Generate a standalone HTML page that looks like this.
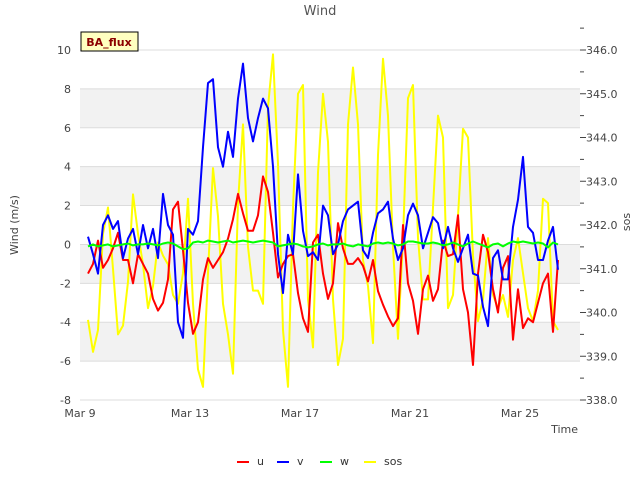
<!DOCTYPE html>
<html><head><meta charset="utf-8"><style>
body{margin:0;background:#fff;font-family:"Liberation Sans","DejaVu Sans",sans-serif}
svg text{font-family:"DejaVu Sans","Liberation Sans",sans-serif}
</style></head><body>
<svg id="chart" width="640" height="480" xmlns="http://www.w3.org/2000/svg">
<g id="bands"></g><g id="grid"></g><g id="axes"></g><g id="series"></g><g id="legend"></g>
<text x="320" y="15" text-anchor="middle" font-size="13" fill="#555">Wind</text>
<text transform="translate(18,225) rotate(-90)" text-anchor="middle" font-size="11" fill="#444">Wind (m/s)</text>
<text transform="translate(630,222) rotate(-90)" text-anchor="middle" font-size="11" fill="#444">sos</text>
<text x="578" y="433" text-anchor="end" font-size="11" fill="#444">Time</text>
<g>
<rect x="81" y="32" width="57" height="19" fill="#ffffc0" stroke="#000" stroke-width="1"/>
<text x="109" y="46" text-anchor="middle" font-size="11" font-weight="bold" fill="#8b0000">BA_flux</text>
</g>
</svg>
<script>
const xTickLabels=["Mar 9","Mar 13","Mar 17","Mar 21","Mar 25"];
const xTickDays=[0,4,8,12,16];
const yTicks=[-8,-6,-4,-2,0,2,4,6,8,10];
const y2Ticks=[338,339,340,341,342,343,344,345,346];
const tStart=0.29, tStep=5/27.5;
const uVals=[-1.5,-1,0.2,-1.2,-0.8,-0.2,0.6,-0.8,-0.8,-2,-0.5,-1,-1.5,-2.8,-3.4,-3,-1.8,1.8,2.2,-0.3,-3,-4.6,-4,-1.8,-0.7,-1.2,-0.8,-0.4,0.3,1.3,2.6,1.6,0.7,0.7,1.5,3.5,2.7,0.6,-1.7,-1,-0.6,-0.5,-2.5,-3.8,-4.5,0.1,0.5,-1.5,-2.8,-2,1.1,-0.2,-1,-1,-0.7,-1.1,-1.9,-0.8,-2.4,-3.1,-3.7,-4.2,-3.8,1,-2,-2.9,-4.6,-2.3,-1.6,-2.9,-2.3,0.2,-0.6,-0.5,1.5,-2.3,-3.5,-6.2,-1.5,0.5,-0.4,-2.3,-3.5,-1.2,-0.6,-4.9,-2.3,-4.3,-3.8,-4,-3,-2,-1.5,-4.5,-0.8];
const vVals=[0.4,-0.5,-1.5,1,1.5,0.8,1.2,-0.7,0.3,0.8,-0.5,1,-0.2,0.8,-0.7,2.6,1,0.5,-4,-4.8,0.8,0.5,1.2,5,8.3,8.5,5,4,5.8,4.5,7.5,9.3,6.5,5.3,6.5,7.5,7,4,-0.5,-2.5,0.5,-0.5,3.6,0.7,-0.6,-0.4,-0.8,2,1.5,-0.5,0,1.2,1.8,2,2.2,-0.3,-0.7,0.6,1.6,1.8,2.2,0.3,-0.8,-0.2,1.5,2.1,1.5,-0.2,0.6,1.4,1.1,-0.2,0.9,-0.2,-0.9,-0.2,0.5,-1.5,-1.6,-3.2,-4.2,-0.7,-0.3,-1.8,-1.8,0.9,2.3,4.5,0.9,0.6,-0.8,-0.8,0.2,0.9,-1.3];
const wVals=[-0.1,0,-0.1,-0.05,0,-0.1,-0.05,0,0.05,-0.05,0,0,0.05,0,-0.05,0.05,0.1,0.05,-0.1,-0.25,-0.2,0.1,0.15,0.1,0.2,0.15,0.1,0.15,0.2,0.1,0.15,0.2,0.15,0.1,0.15,0.2,0.15,0.1,-0.1,-0.05,0,0.05,0,-0.1,-0.15,-0.1,0,0.05,-0.05,0,0,0.05,-0.05,-0.1,0,-0.05,-0.1,0.05,0.1,0.05,0.1,0.05,-0.05,0,0.15,0.15,0.1,0.05,0.05,0.1,0.05,-0.05,0,0.1,0,-0.1,0.05,0.15,0.05,-0.05,-0.15,0,0.05,-0.1,0.05,0.15,0.1,0.15,0.1,0.05,0.1,0.05,-0.15,0.1,0];
const sosVals=[339.83,339.1,339.6,341.8,342.4,341.0,339.5,339.7,340.7,342.7,341.8,341.1,340.1,340.6,341.6,341.3,341.1,340.4,340.2,340.9,342.6,340.2,338.7,338.3,340.9,343.3,342.2,340.2,339.5,338.6,342.5,344.3,341.5,340.5,340.5,340.2,344.7,345.9,343.4,339.6,338.3,342.4,345,345.2,340.3,339.2,343.2,345,343.9,340.3,338.8,339.4,344.3,345.6,344.3,341.2,340.6,339.3,343.6,345.8,344.5,341.5,339.4,341.7,344.9,345.2,341.7,340.3,340.3,342.4,344.5,344,340.1,340.4,342.2,344.2,344,341.3,339.8,340.3,341.7,340.4,340.1,340.4,339.9,341.2,341.7,340.9,340.1,339.8,340.5,342.6,342.5,339.8,339.6];
const legendNames=["u","v","w","sos"];
const legendColors=["#ff0000","#0000ff","#00ff00","#ffff00"];

const L=80,R=580,T=50,B=400;
const xS=d=>L+d*27.5;
const yS=v=>B-(v+8)/18*(B-T);
const y2S=v=>B-(v-338)/8*(B-T);
const NS="http://www.w3.org/2000/svg";
function mk(tag,attrs,parent,text){const e=document.createElementNS(NS,tag);for(const k in attrs)e.setAttribute(k,attrs[k]);if(text!==undefined)e.textContent=text;document.getElementById(parent).appendChild(e);return e;}

// bands
[[6,8],[2,4],[-2,0],[-6,-4]].forEach(b=>{
 const r=mk('rect',{x:L,y:yS(b[1]),width:R-L,height:yS(b[0])-yS(b[1]),fill:'#f2f2f2'},'bands');
 
 
});
yTicks.forEach(t=>{
 const l=mk('line',{x1:L,x2:R,y1:yS(t),y2:yS(t),stroke:'#dcdcdc','stroke-width':1},'grid');
 
 
 const tx=mk('text',{x:71,y:yS(t)+4,'text-anchor':'end','font-size':11,fill:'#444'},'axes',String(t));
 
 
});
y2Ticks.forEach(t=>{
 const l=mk('line',{x1:R,x2:R+6,y1:y2S(t),y2:y2S(t),stroke:'#444'},'axes');
 
 
 const m=mk('line',{x1:R,x2:R+4,y1:y2S(t+0.5),y2:y2S(t+0.5),stroke:'#444'},'axes');
 
 
 const tx=mk('text',{x:586,y:y2S(t)+4,'font-size':11,fill:'#444'},'axes',t.toFixed(1));
 
 
});
xTickDays.forEach((d,i)=>{
 const tx=mk('text',{x:xS(d),y:417,'text-anchor':'middle','font-size':11,fill:'#444'},'axes',xTickLabels[i]);
 
 
});
function line(vals,scale,color,name){
 const pts=vals.map((v,i)=>xS(tStart+i*tStep).toFixed(1)+','+scale(v).toFixed(1)).join(' ');
 const p=mk('polyline',{points:pts,fill:'none',stroke:color,'stroke-width':2,'stroke-linejoin':'round'},'series');
 
 
}
line(sosVals,y2S,'#ffff00','sos-line');
line(uVals,yS,'#ff0000','u-line');
line(vVals,yS,'#0000ff','v-line');
line(wVals,yS,'#00ff00','w-line');
const lx=[237,277,320,364];
legendNames.forEach((n,i)=>{
 const g=mk('g',{},'legend');
 
 
 const l=document.createElementNS(NS,'line');
 l.setAttribute('x1',lx[i]);l.setAttribute('x2',lx[i]+12);l.setAttribute('y1',462);l.setAttribute('y2',462);
 l.setAttribute('stroke',legendColors[i]);l.setAttribute('stroke-width',2);g.appendChild(l);
 const t=document.createElementNS(NS,'text');
 t.setAttribute('x',lx[i]+20);t.setAttribute('y',465);t.setAttribute('font-size',11);t.setAttribute('fill','#333');
 t.textContent=n;g.appendChild(t);
});
</script>
</body></html>
